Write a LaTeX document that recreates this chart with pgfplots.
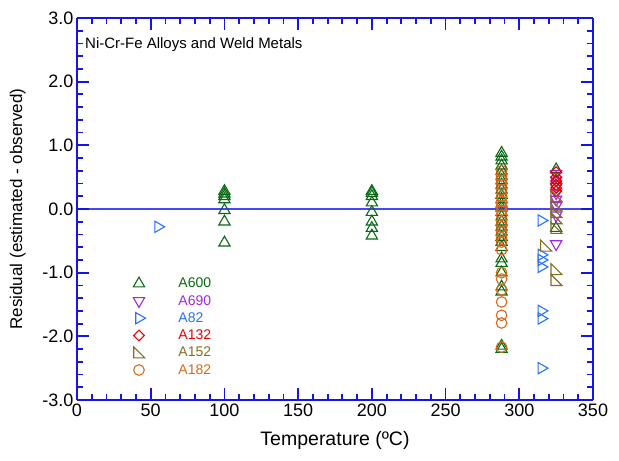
\documentclass[border=0pt]{standalone}
\usepackage{pgfplots}
\pgfplotsset{compat=1.18}
\usepackage{fontspec}
\setmainfont{Liberation Sans}
\definecolor{axblue}{RGB}{20,20,235}
\definecolor{zblue}{RGB}{70,70,250}
\definecolor{cA600}{RGB}{10,105,20}
\definecolor{cA690}{RGB}{160,40,220}
\definecolor{cA82}{RGB}{40,110,255}
\definecolor{cA132}{RGB}{230,0,0}
\definecolor{cA152}{RGB}{130,110,30}
\definecolor{cA182}{RGB}{215,105,25}
\pgfdeclareplotmark{rtri}{%
  \pgfpathmoveto{\pgfqpoint{-0.8\pgfplotmarksize}{0.9\pgfplotmarksize}}%
  \pgfpathlineto{\pgfqpoint{-0.8\pgfplotmarksize}{-0.8\pgfplotmarksize}}%
  \pgfpathlineto{\pgfqpoint{0.9\pgfplotmarksize}{-0.8\pgfplotmarksize}}%
  \pgfpathclose\pgfusepathqstroke}
\begin{document}
\begin{tikzpicture}
\begin{axis}[
  name=ax,
  scale only axis, width=516pt, height=382pt,
  xmin=0, xmax=350, ymin=-3, ymax=3,
  xtick={0,50,...,350}, ytick={-3,-2,...,3},
  minor x tick num=0, minor y tick num=0,
  tick align=inside,
  major tick length=0pt, minor tick length=0pt,
  separate axis lines,
  axis line style={draw=axblue, line width=2.2pt},
  y tick label style={/pgf/number format/fixed, /pgf/number format/fixed zerofill, /pgf/number format/precision=1},
  /pgf/number format/assume math mode=true,
  tick label style={font=\fontsize{18}{20}\selectfont},
  xlabel={Temperature (ºC)},
  ylabel={Residual (estimated - observed)},
  xlabel style={font=\fontsize{19.5}{22}\selectfont, yshift=-8pt},
  ylabel style={font=\fontsize{17}{20}\selectfont, yshift=10pt},
  clip=false,
  legend cell align=left,
  legend style={at={(rel axis cs:0.103,0.333)}, anchor=north west, draw=none, fill=none,
    font=\fontsize{14}{16}\selectfont, row sep=0pt,
    nodes={inner ysep=3pt}},
  legend style={/tikz/every odd column/.append style={column sep=31pt}},
  every axis plot/.append style={only marks, line width=1.1pt},
]
\draw[color=zblue, line width=1.2pt] (axis cs:0,0) -- (axis cs:350,0);
\node[anchor=west, font=\fontsize{15}{18}\selectfont] at (rel axis cs:0.009,0.929) {Ni-Cr-Fe Alloys and Weld Metals};

\addplot[cA600, mark=triangle, mark size=6.5pt] coordinates {
(100,0.28) (100,0.24) (100,0.20) (100,0.15) (100,-0.02) (100,-0.20) (100,-0.53)
(200,0.28) (200,0.25) (200,0.20) (200,0.10) (200,-0.05) (200,-0.20) (200,-0.30) (200,-0.42)
(288,0.88) (288,0.82) (288,0.76) (288,0.68) (288,0.60) (288,0.52) (288,0.45) (288,0.38)
(288,0.30) (288,0.22) (288,0.15) (288,0.08) (288,0.02) (288,-0.05) (288,-0.12) (288,-0.20)
(288,-0.28) (288,-0.36) (288,-0.44) (288,-0.52) (288,-0.60) (288,-0.78) (288,-0.85)
(288,-1.00) (288,-1.22) (288,-1.30) (288,-2.15) (288,-2.20)
(325,0.62) (325,0.45) (325,-0.30)
};
\addlegendentry{\textcolor{cA600}{A600}}
\addplot[cA690, mark=triangle, mark size=6.5pt, mark options={rotate=180}] coordinates {
(325,0.55) (325,0.45) (325,0.35) (325,0.25) (325,0.15) (325,0.05) (325,-0.10) (325,-0.55)
};
\addlegendentry{\textcolor{cA690}{A690}}
\addplot[cA82, mark=triangle, mark size=6.5pt, mark options={rotate=-90}] coordinates {
(55,-0.28) (315,-0.18) (315,-0.72) (315,-0.80) (315,-0.91) (315,-1.60) (315,-1.72) (315,-2.50)
};
\addlegendentry{\textcolor{cA82}{A82}}
\addplot[cA132, mark=square, mark size=3.8pt, mark options={rotate=45}] coordinates {
(325,0.58) (325,0.50) (325,0.44) (325,0.38) (325,0.33) (325,0.28)
};
\addlegendentry{\textcolor{cA132}{A132}}
\addplot[cA152, mark=rtri, mark size=6.5pt] coordinates {
(325,0.20) (325,0.05) (325,-0.05) (325,-0.15) (325,-0.30) (318,-0.58) (325,-0.95) (325,-1.12)
};
\addlegendentry{\textcolor{cA152}{A152}}
\addplot[cA182, mark=o, mark size=5.3pt] coordinates {
(288,0.60) (288,0.52) (288,0.45) (288,0.38) (288,0.30) (288,0.20) (288,0.12) (288,0.05)
(288,-0.02) (288,-0.10) (288,-0.20) (288,-0.28) (288,-0.36) (288,-0.45) (288,-0.52)
(288,-0.64) (288,-1.00) (288,-1.10) (288,-1.27) (288,-1.46) (288,-1.67) (288,-1.79) (288,-2.17)
};
\addlegendentry{\textcolor{cA182}{A182}}
\end{axis}
% tick marks (inside, on all four sides)
\foreach \i in {1,...,34}{
  \pgfmathsetmacro{\L}{mod(\i,5)==0 ? 12 : 6}
  \draw[color=axblue, line width=1.8pt] ([xshift=\i*14.742857pt]ax.south west) -- ++(0,\L pt);
  \draw[color=axblue, line width=1.8pt] ([xshift=\i*14.742857pt]ax.north west) -- ++(0,-\L pt);
}
\foreach \i in {1,...,29}{
  \pgfmathsetmacro{\L}{mod(\i,5)==0 ? 12 : 6}
  \draw[color=axblue, line width=1.8pt] ([yshift=\i*12.733333pt]ax.south west) -- ++(\L pt,0);
  \draw[color=axblue, line width=1.8pt] ([yshift=\i*12.733333pt]ax.south east) -- ++(-\L pt,0);
}
\path[use as bounding box] ([xshift=-77pt,yshift=-60pt]ax.south west) rectangle ([xshift=26pt,yshift=18pt]ax.north east);
\end{tikzpicture}
\end{document}
